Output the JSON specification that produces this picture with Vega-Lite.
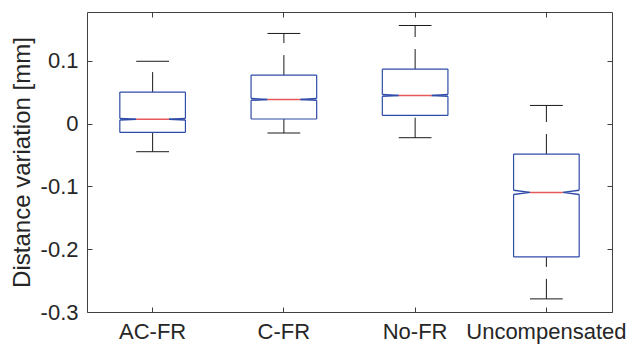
{
  "$schema": "https://vega.github.io/schema/vega-lite/v6.json",
  "width": 525,
  "height": 300,
  "autosize": {"type": "none"},
  "padding": {"left": 87, "top": 12, "right": 15, "bottom": 38},
  "background": "white",
  "config": {
    "view": {"stroke": "#404040", "strokeWidth": 1},
    "font": "Liberation Sans",
    "axis": {
      "labelFont": "Liberation Sans",
      "titleFont": "Liberation Sans",
      "labelColor": "#262626",
      "titleColor": "#262626",
      "labelFontSize": 22,
      "labelFontWeight": "normal",
      "titleFontSize": 24,
      "titleFontWeight": "normal",
      "domain": false,
      "grid": false,
      "tickColor": "#404040",
      "tickSize": -5,
      "tickWidth": 1
    }
  },
  "data": {
    "values": [
      {"cat": "AC-FR", "lower": -0.0446, "q1": -0.0138, "nlo": 0.0059, "med": 0.0072, "nhi": 0.0085, "q3": 0.0504, "upper": 0.0995},
      {"cat": "C-FR", "lower": -0.0148, "q1": 0.0075, "nlo": 0.0373, "med": 0.0387, "nhi": 0.0401, "q3": 0.0775, "upper": 0.1438},
      {"cat": "No-FR", "lower": -0.0223, "q1": 0.0132, "nlo": 0.0436, "med": 0.0451, "nhi": 0.0466, "q3": 0.0871, "upper": 0.1565},
      {"cat": "Uncompensated", "lower": -0.2791, "q1": -0.2123, "nlo": -0.1127, "med": -0.1094, "nhi": -0.1061, "q3": -0.0483, "upper": 0.0291}
    ]
  },
  "layer": [
    {
      "encoding": {
        "x": {
          "field": "cat", "type": "nominal", "sort": null,
          "scale": {"paddingInner": 0.5, "paddingOuter": 0.25},
          "axis": {"title": null, "labelAngle": 0, "labelPadding": 14, "orient": "bottom"}
        }
      },
      "layer": [
        {
          "mark": {"type": "rule", "color": "#1a1a1a", "strokeWidth": 1, "strokeDash": [20, 12]},
          "encoding": {
            "y": {"field": "q3", "type": "quantitative",
              "scale": {"domain": [-0.3, 0.178], "nice": false, "zero": false},
              "axis": {"title": "Distance variation [mm]", "values": [-0.3, -0.2, -0.1, 0, 0.1],
                "labelExpr": "replace(format(datum.value, '.1~f'), '\u2212', '-')",
                "labelPadding": 14, "titlePadding": 6, "orient": "left"}},
            "y2": {"field": "upper"}
          }
        },
        {
          "mark": {"type": "rule", "color": "#1a1a1a", "strokeWidth": 1, "strokeDash": [20, 12]},
          "encoding": {"y": {"field": "lower", "type": "quantitative"}, "y2": {"field": "q1"}}
        },
        {
          "mark": {"type": "rule", "color": "#1a1a1a", "strokeWidth": 1, "xOffset": -16.4, "x2Offset": 16.4},
          "encoding": {"x2": {"field": "cat"}, "y": {"field": "upper", "type": "quantitative"}}
        },
        {
          "mark": {"type": "rule", "color": "#1a1a1a", "strokeWidth": 1, "xOffset": -16.4, "x2Offset": 16.4},
          "encoding": {"x2": {"field": "cat"}, "y": {"field": "lower", "type": "quantitative"}}
        },
        {
          "mark": {"type": "rule", "color": "#2f4ba8", "strokeWidth": 1.2, "xOffset": -32.8, "x2Offset": 32.8},
          "encoding": {"x2": {"field": "cat"}, "y": {"field": "q3", "type": "quantitative"}}
        },
        {
          "mark": {"type": "rule", "color": "#2f4ba8", "strokeWidth": 1.2, "xOffset": -32.8, "x2Offset": 32.8},
          "encoding": {"x2": {"field": "cat"}, "y": {"field": "q1", "type": "quantitative"}}
        },
        {
          "mark": {"type": "rule", "color": "#2f4ba8", "strokeWidth": 1.2, "xOffset": -32.8},
          "encoding": {"y": {"field": "q3", "type": "quantitative"}, "y2": {"field": "nhi"}}
        },
        {
          "mark": {"type": "rule", "color": "#2f4ba8", "strokeWidth": 1.2, "xOffset": 32.8},
          "encoding": {"y": {"field": "q3", "type": "quantitative"}, "y2": {"field": "nhi"}}
        },
        {
          "mark": {"type": "rule", "color": "#2f4ba8", "strokeWidth": 1.2, "xOffset": -32.8},
          "encoding": {"y": {"field": "nlo", "type": "quantitative"}, "y2": {"field": "q1"}}
        },
        {
          "mark": {"type": "rule", "color": "#2f4ba8", "strokeWidth": 1.2, "xOffset": 32.8},
          "encoding": {"y": {"field": "nlo", "type": "quantitative"}, "y2": {"field": "q1"}}
        },
        {
          "mark": {"type": "rule", "color": "#2f4ba8", "strokeWidth": 1.5, "xOffset": -32.8, "x2Offset": -16.4},
          "encoding": {"x2": {"field": "cat"}, "y": {"field": "nhi", "type": "quantitative"}, "y2": {"field": "med"}}
        },
        {
          "mark": {"type": "rule", "color": "#2f4ba8", "strokeWidth": 1.5, "xOffset": -32.8, "x2Offset": -16.4},
          "encoding": {"x2": {"field": "cat"}, "y": {"field": "nlo", "type": "quantitative"}, "y2": {"field": "med"}}
        },
        {
          "mark": {"type": "rule", "color": "#2f4ba8", "strokeWidth": 1.5, "xOffset": 32.8, "x2Offset": 16.4},
          "encoding": {"x2": {"field": "cat"}, "y": {"field": "nhi", "type": "quantitative"}, "y2": {"field": "med"}}
        },
        {
          "mark": {"type": "rule", "color": "#2f4ba8", "strokeWidth": 1.5, "xOffset": 32.8, "x2Offset": 16.4},
          "encoding": {"x2": {"field": "cat"}, "y": {"field": "nlo", "type": "quantitative"}, "y2": {"field": "med"}}
        },
        {
          "mark": {"type": "rule", "color": "#e8585a", "strokeWidth": 1.5, "xOffset": -16.4, "x2Offset": 16.4},
          "encoding": {"x2": {"field": "cat"}, "y": {"field": "med", "type": "quantitative"}}
        }
      ]
    },
    {
      "mark": {"type": "rule", "opacity": 0},
      "encoding": {
        "x": {"field": "cat", "type": "nominal", "sort": null,
          "scale": {"paddingInner": 0.5, "paddingOuter": 0.25},
          "axis": {"title": null, "labels": false, "orient": "top"}},
        "y": {"field": "med", "type": "quantitative",
          "scale": {"domain": [-0.3, 0.178], "nice": false, "zero": false},
          "axis": {"title": null, "labels": false, "orient": "right", "values": [-0.3, -0.2, -0.1, 0, 0.1]}}
      }
    }
  ],
  "resolve": {"scale": {"x": "independent", "y": "independent"}, "axis": {"x": "independent", "y": "independent"}}
}
